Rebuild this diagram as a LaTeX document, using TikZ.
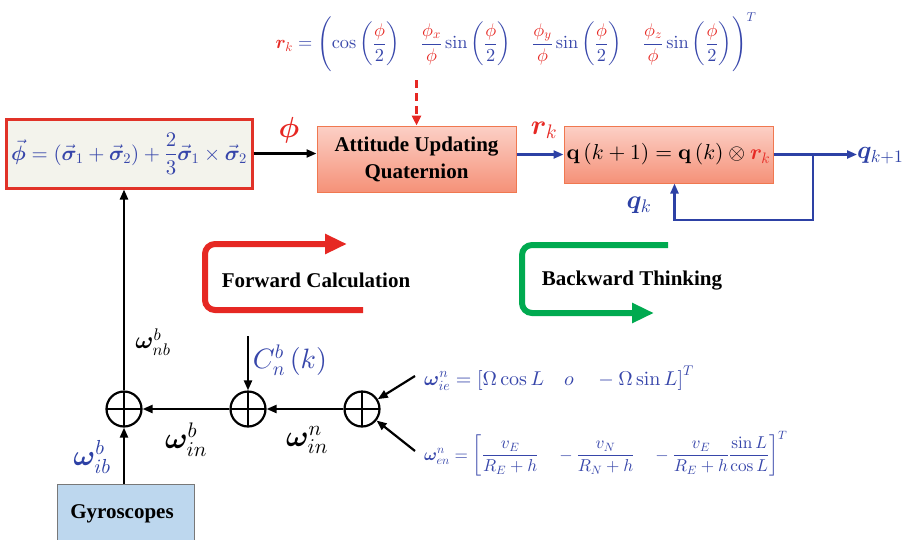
\documentclass[tikz,border=0pt]{standalone}
\usepackage{amsmath}
\usepackage{bm}
\usepackage[no-math]{fontspec}
\setmainfont{Liberation Serif}
\DeclareFontShape{OML}{cmm}{m}{it}{<->cmmi10}{}
\DeclareFontShape{OML}{cmm}{b}{it}{<->cmmib10}{}
\DeclareFontShape{OMS}{cmsy}{m}{n}{<->cmsy10}{}
\DeclareFontShape{OMS}{cmsy}{b}{n}{<->cmbsy10}{}
\DeclareFontShape{OT1}{cmr}{m}{n}{<->cmr10}{}
\DeclareFontShape{OT1}{cmr}{bx}{n}{<->cmbx10}{}
\DeclareFontShape{OMX}{cmex}{m}{n}{<->cmex10}{}
\usetikzlibrary{arrows.meta,shadings}
\definecolor{mblue}{RGB}{55,70,170}
\definecolor{lblue}{RGB}{45,65,165}
\definecolor{mred}{RGB}{230,40,35}
\definecolor{boxred}{RGB}{225,50,40}
\definecolor{lgray}{RGB}{243,243,236}
\definecolor{salT}{RGB}{252,208,198}
\definecolor{salB}{RGB}{245,145,120}
\definecolor{salD}{RGB}{240,120,80}
\definecolor{gyro}{RGB}{189,215,238}
\definecolor{gyrod}{RGB}{120,120,120}
\definecolor{mgreen}{RGB}{0,170,80}
\begin{document}
\begin{tikzpicture}[x=1pt,y=-1pt,
  txt/.style={font=\fontsize{21}{25}\selectfont\bfseries},
  lbl/.style={font=\fontsize{26}{30}\selectfont, inner sep=0pt},
  arr/.style={-{Triangle[length=10pt,width=8pt]}, line width=2.2pt},
  lbox/.style={draw=boxred, line width=3pt, fill=lgray, minimum width=246pt, minimum height=69pt, inner sep=0pt},
  abox/.style={draw=salD, line width=1pt, top color=salT, bottom color=salB, inner sep=0pt, align=center},
  sumn/.style={circle, draw, line width=2.2pt, minimum size=35pt, inner sep=0pt,
    path picture={\draw[line width=2pt] (path picture bounding box.north) -- (path picture bounding box.south)
      (path picture bounding box.west) -- (path picture bounding box.east);}},
  bigarr/.style={line width=6pt, rounded corners=10pt}
]
\clip (0,0) rectangle (909,539);
\useasboundingbox (0,0) rectangle (909,539);

% top formula
\node[font=\fontsize{18.3}{22}\selectfont, text=mblue, inner sep=0pt] (rkf) at (516,42)
 {$\displaystyle {\color{mred}\bm{r}_k} = \Biggl(\cos\left(\frac{\color{mred}\phi}{2}\right)\quad
 \frac{\color{mred}\phi_x}{\color{mred}\phi}\sin\left(\frac{\color{mred}\phi}{2}\right)\quad
 \frac{\color{mred}\phi_y}{\color{mred}\phi}\sin\left(\frac{\color{mred}\phi}{2}\right)\quad
 \frac{\color{mred}\phi_z}{\color{mred}\phi}\sin\left(\frac{\color{mred}\phi}{2}\right)\Biggr)^{T}$};

% boxes
\node[lbox, font=\fontsize{20.8}{25}\selectfont, text=mblue] (lb) at (129,153.5)
 {$\vec{\bm{\phi}} = \left(\vec{\bm{\sigma}}_1+\vec{\bm{\sigma}}_2\right)+\dfrac{2}{3}\vec{\bm{\sigma}}_1\times\vec{\bm{\sigma}}_2$};
\node[abox, txt, minimum width=199pt, minimum height=66pt] (att) at (416.5,159) {Attitude Updating\\[2pt]Quaternion};
\node[abox, font=\fontsize{21.6}{26}\selectfont, minimum width=209pt, minimum height=57pt] (qb) at (668.5,154.5)
 {$\mathbf{q}\left(k+1\right)=\mathbf{q}\left(k\right)\otimes{\color{mred}\bm{r}_k}$};

% labels top row
\node[lbl, font=\fontsize{29}{32}\selectfont, text=mred] (phil) at (289,130) {$\bm{\phi}$};
\node[lbl, font=\fontsize{28}{32}\selectfont, text=mred] (rkl) at (544,130) {$\bm{r}_k$};
\node[lbl, font=\fontsize{25}{30}\selectfont, text=lblue, anchor=west] (qn) at (857,156) {$\bm{q}_{k+1}$};
\node[lbl, font=\fontsize{26}{30}\selectfont, text=lblue] (qk) at (639,205) {$\bm{q}_k$};

% top row connectors
\coordinate (dt) at (416.5,80);
\draw[mred, line width=2.5pt, dash pattern=on 8pt off 5pt, -{Triangle[length=10pt,width=9pt]}] (dt) -- (att.north);
\draw[arr] (lb.east) -- (lb.east -| att.west);
\draw[arr, lblue] (att.east |- qb.west) -- (qb.west);
\draw[arr, lblue] (qb.east) -- (qb.east -| qn.west);
\coordinate (fb) at (813,154.5);
\coordinate (fbb) at (813,220);
\draw[arr, lblue] (fb) -- (fbb) -| ([xshift=6pt]qb.south);

% forward / backward
\draw[bigarr, mred, -{Triangle[length=22pt,width=19pt]}] (363,310) -- (205,310) -- (205,244) -- (347,244);
\node[txt] (fwd) at (316,280) {Forward Calculation};
\draw[bigarr, mgreen, -{Triangle[length=22pt,width=19pt]}] (668,245) -- (522,245) -- (522,313) -- (654,313);
\node[txt] (bwd) at (632,281) {Backward Thinking};

% sums
\node[sumn] (s1) at (124,409) {};
\node[sumn] (s2) at (248,409) {};
\node[sumn] (s3) at (362,409) {};
\node[draw=gyrod, line width=1pt, fill=gyro, minimum width=137pt, minimum height=70pt, anchor=north] (gy) at (125.5,484) {};
\node[txt] (gyt) at (122,514) {Gyroscopes};

\draw[arr] (s1.north) -- (s1.north |- lb.south);
\draw[arr] (s1.south |- gy.north) -- (s1.south);
\draw[arr] (s2.west) -- (s1.east);
\draw[arr] (s3.west) -- (s2.east);
\coordinate (cs) at (248,336);
\draw[arr] (cs) -- (s2.north);
\coordinate (d1) at (415,376);
\coordinate (d2) at (415,451);
\draw[arr] (d1) -- (s3);
\draw[arr] (d2) -- (s3);

% omega labels
\node[lbl, font=\fontsize{24}{28}\selectfont] (wnb) at (153,342) {$\bm{\omega}^{b}_{nb}$};
\node[lbl, text=mblue, font=\fontsize{28}{32}\selectfont] (cnb) at (290,360) {$C^{b}_{n}\left(k\right)$};
\node[lbl, font=\fontsize{29}{32}\selectfont, text=lblue] (wib) at (92,457) {$\bm{\omega}^{b}_{ib}$};
\node[lbl, font=\fontsize{30}{34}\selectfont] (winb) at (186,440) {$\bm{\omega}^{b}_{in}$};
\node[lbl, font=\fontsize{30}{34}\selectfont] (winn) at (307,440) {$\bm{\omega}^{n}_{in}$};

% right formulas
\node[anchor=west, text=mblue, font=\fontsize{20}{24}\selectfont, inner sep=0pt] (wie) at (424,378)
 {$\bm{\omega}^{n}_{ie}=\left[\Omega\cos L\quad o\quad -\Omega\sin L\right]^{T}$};
\node[anchor=west, text=mblue, font=\fontsize{17.2}{21}\selectfont, inner sep=0pt] (wen) at (424,454)
 {$\bm{\omega}^{n}_{en}=\left[\dfrac{v_E}{R_E+h}\quad -\dfrac{v_N}{R_N+h}\quad -\dfrac{v_E}{R_E+h}\dfrac{\sin L}{\cos L}\right]^{T}$};
\end{tikzpicture}
\end{document}
